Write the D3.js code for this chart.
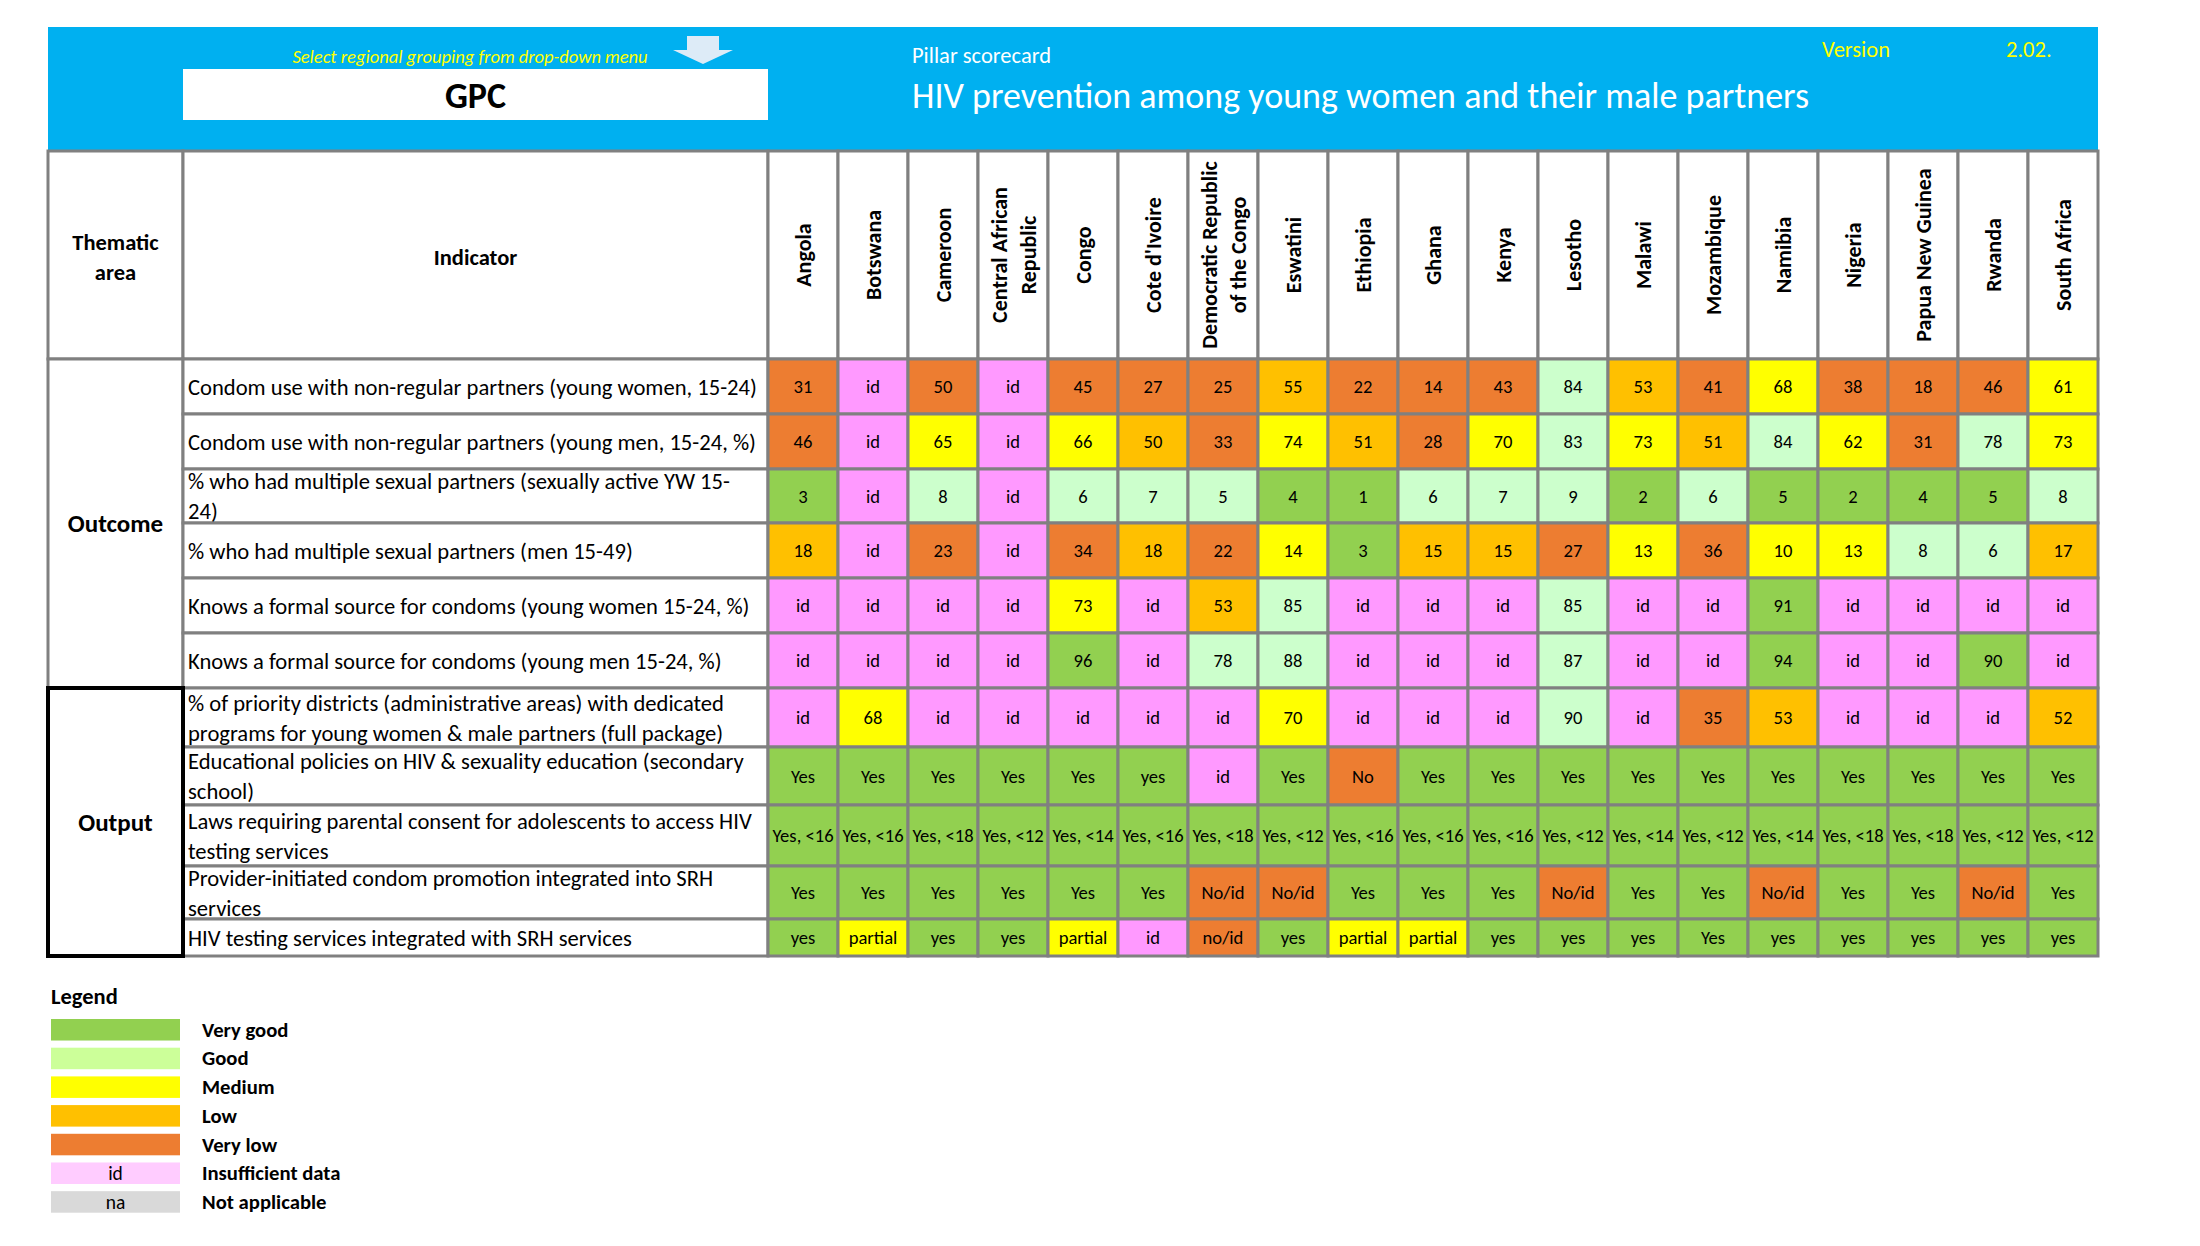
<!DOCTYPE html>
<html><head><meta charset="utf-8">
<script src="https://cdn.jsdelivr.net/npm/d3@7"></script>
<style>
html,body{margin:0;padding:0;background:#fff;}
svg{display:block;}
</style></head>
<body><svg id="chart" width="2200" height="1246"></svg>
<script>
// ---------------- DATA ----------------
const countries = ["Angola","Botswana","Cameroon","Central African Republic","Congo","Cote d'Ivoire",
  "Democratic Republic of the Congo","Eswatini","Ethiopia","Ghana","Kenya","Lesotho","Malawi",
  "Mozambique","Namibia","Nigeria","Papua New Guinea","Rwanda","South Africa"];
// header line breaks for the rotated country labels
const countryLines = {"Central African Republic":["Central African","Republic"],
  "Democratic Republic of the Congo":["Democratic Republic","of the Congo"]};

const thematicAreas = ["Outcome","Output"];
const rowThematic = [0,0,0,0,0,0,1,1,1,1,1];

const indicators = [
  ["Condom use with non-regular partners (young women, 15-24)"],
  ["Condom use with non-regular partners (young men, 15-24, %)"],
  ["% who had multiple sexual partners (sexually active YW 15-","24)"],
  ["% who had multiple sexual partners (men 15-49)"],
  ["Knows a formal source for condoms (young women 15-24, %)"],
  ["Knows a formal source for condoms (young men 15-24, %)"],
  ["% of priority districts (administrative areas) with dedicated","programs for young women & male partners (full package)"],
  ["Educational policies on HIV & sexuality education (secondary","school)"],
  ["Laws requiring parental consent for adolescents to access HIV","testing services"],
  ["Provider-initiated condom promotion integrated into SRH","services"],
  ["HIV testing services integrated with SRH services"]
];

const condomWomenValues  = ["31","id","50","id","45","27","25","55","22","14","43","84","53","41","68","38","18","46","61"];
const condomWomenRatings = ["VL","id","VL","id","VL","VL","VL","L","VL","VL","VL","G","L","VL","M","VL","VL","VL","M"];
const condomMenValues    = ["46","id","65","id","66","50","33","74","51","28","70","83","73","51","84","62","31","78","73"];
const condomMenRatings   = ["VL","id","M","id","M","L","VL","M","L","VL","M","G","M","L","G","M","VL","G","M"];
const multiYWValues      = ["3","id","8","id","6","7","5","4","1","6","7","9","2","6","5","2","4","5","8"];
const multiYWRatings     = ["VG","id","G","id","G","G","G","VG","VG","G","G","G","VG","G","VG","VG","VG","VG","G"];
const multiMenValues     = ["18","id","23","id","34","18","22","14","3","15","15","27","13","36","10","13","8","6","17"];
const multiMenRatings    = ["L","id","VL","id","VL","L","VL","M","VG","L","L","VL","M","VL","M","M","G","G","L"];
const sourceWomenValues  = ["id","id","id","id","73","id","53","85","id","id","id","85","id","id","91","id","id","id","id"];
const sourceWomenRatings = ["id","id","id","id","M","id","L","G","id","id","id","G","id","id","VG","id","id","id","id"];
const sourceMenValues    = ["id","id","id","id","96","id","78","88","id","id","id","87","id","id","94","id","id","90","id"];
const sourceMenRatings   = ["id","id","id","id","VG","id","G","G","id","id","id","G","id","id","VG","id","id","VG","id"];
const districtsValues    = ["id","68","id","id","id","id","id","70","id","id","id","90","id","35","53","id","id","id","52"];
const districtsRatings   = ["id","M","id","id","id","id","id","M","id","id","id","G","id","VL","L","id","id","id","L"];
const educationValues    = ["Yes","Yes","Yes","Yes","Yes","yes","id","Yes","No","Yes","Yes","Yes","Yes","Yes","Yes","Yes","Yes","Yes","Yes"];
const educationRatings   = ["VG","VG","VG","VG","VG","VG","id","VG","VL","VG","VG","VG","VG","VG","VG","VG","VG","VG","VG"];
const consentValues      = ["Yes, <16","Yes, <16","Yes, <18","Yes, <12","Yes, <14","Yes, <16","Yes, <18","Yes, <12","Yes, <16","Yes, <16",
                            "Yes, <16","Yes, <12","Yes, <14","Yes, <12","Yes, <14","Yes, <18","Yes, <18","Yes, <12","Yes, <12"];
const consentRatings     = ["VG","VG","VG","VG","VG","VG","VG","VG","VG","VG","VG","VG","VG","VG","VG","VG","VG","VG","VG"];
const condomPromoValues  = ["Yes","Yes","Yes","Yes","Yes","Yes","No/id","No/id","Yes","Yes","Yes","No/id","Yes","Yes","No/id","Yes","Yes","No/id","Yes"];
const condomPromoRatings = ["VG","VG","VG","VG","VG","VG","VL","VL","VG","VG","VG","VL","VG","VG","VL","VG","VG","VL","VG"];
const hivTestingValues   = ["yes","partial","yes","yes","partial","id","no/id","yes","partial","partial","yes","yes","yes","Yes","yes","yes","yes","yes","yes"];
const hivTestingRatings  = ["VG","M","VG","VG","M","id","VL","VG","M","M","VG","VG","VG","VG","VG","VG","VG","VG","VG"];

const rowValues  = [condomWomenValues, condomMenValues, multiYWValues, multiMenValues, sourceWomenValues, sourceMenValues,
                    districtsValues, educationValues, consentValues, condomPromoValues, hivTestingValues];
const rowRatings = [condomWomenRatings, condomMenRatings, multiYWRatings, multiMenRatings, sourceWomenRatings, sourceMenRatings,
                    districtsRatings, educationRatings, consentRatings, condomPromoRatings, hivTestingRatings];

const legendCodes  = ["VG","G","M","L","VL","id","na"];
const legendLabels = ["Very good","Good","Medium","Low","Very low","Insufficient data","Not applicable"];
const legendSwatchText = ["","","","","","id","na"];

const titleText = "HIV prevention among young women and their male partners";
const subtitleText = "Pillar scorecard";
const selectorHint = "Select regional grouping from drop-down menu";
const groupingText = "GPC";
const versionLabel = "Version";
const versionValue = "2.02.";

// ---------------- STYLE / LAYOUT ----------------
const FONT = "Carlito, Calibri, Lato, sans-serif";
const cellColor   = {VG:"#92D050", G:"#CCFFCC", M:"#FFFF00", L:"#FFC000", VL:"#ED7D31", id:"#FF99FF", na:"#D9D9D9"};
const legendColor = {VG:"#92D050", G:"#CCFF99", M:"#FFFF00", L:"#FFC000", VL:"#ED7D31", id:"#FFCCFF", na:"#D9D9D9"};
const GRID = "#808080";

const L = {left:48, right:2098, headTop:27, headBottom:150, tableTop:151, headerRowBottom:359,
           themRight:183, indRight:768};
const rowEdges = [359, 414, 469, 523, 578, 633, 688, 747, 805, 866, 919, 956];

const svg = d3.select("#chart");

const x = d3.scaleBand().domain(countries).range([L.indRight, L.right]).paddingInner(0).paddingOuter(0);
const yTop = d3.scaleOrdinal().domain(d3.range(indicators.length)).range(rowEdges.slice(0,-1));
const yBot = d3.scaleOrdinal().domain(d3.range(indicators.length)).range(rowEdges.slice(1));

// ---------- blue banner ----------
svg.append("rect").attr("x",L.left).attr("y",L.headTop).attr("width",L.right-L.left)
  .attr("height",L.headBottom-L.headTop).attr("fill","#00B0F0");
svg.append("rect").attr("x",L.themRight).attr("y",69).attr("width",L.indRight-L.themRight).attr("height",51).attr("fill","#fff");
svg.append("text").attr("x",(L.themRight+L.indRight)/2).attr("y",96).attr("text-anchor","middle")
  .attr("dominant-baseline","central").attr("font-family",FONT).attr("font-weight","bold").attr("font-size",36)
  .attr("fill","#000").text(groupingText);
svg.append("text").attr("x",470).attr("y",56).attr("text-anchor","middle").attr("dominant-baseline","central")
  .attr("font-family",FONT).attr("font-style","italic").attr("font-size",18.5).attr("fill","#FFFF00").text(selectorHint);
// down arrow
svg.append("path").attr("d","M687,36 L719,36 L719,50 L733,50 L703,64 L673,50 L687,50 Z").attr("fill","#DDEBF7");
svg.append("text").attr("x",912).attr("y",55).attr("dominant-baseline","central").attr("font-family",FONT)
  .attr("font-size",22.5).attr("fill","#fff").text(subtitleText);
svg.append("text").attr("x",912).attr("y",96).attr("dominant-baseline","central").attr("font-family",FONT)
  .attr("font-size",36).attr("fill","#fff").text(titleText);
svg.append("text").attr("x",1822).attr("y",49).attr("dominant-baseline","central").attr("font-family",FONT)
  .attr("font-size",22.5).attr("fill","#FFFF00").text(versionLabel);
svg.append("text").attr("x",2006).attr("y",49).attr("dominant-baseline","central").attr("font-family",FONT)
  .attr("font-size",22.5).attr("fill","#FFFF00").text(versionValue);

// ---------- header row ----------
const hdr = svg.append("g");
hdr.append("rect").attr("x",L.left).attr("y",L.tableTop).attr("width",L.themRight-L.left)
  .attr("height",L.headerRowBottom-L.tableTop).attr("fill","#fff").attr("stroke",GRID).attr("stroke-width",3);
hdr.append("rect").attr("x",L.themRight).attr("y",L.tableTop).attr("width",L.indRight-L.themRight)
  .attr("height",L.headerRowBottom-L.tableTop).attr("fill","#fff").attr("stroke",GRID).attr("stroke-width",3);
const hdrText = hdr.append("text").attr("font-family",FONT).attr("font-weight","bold").attr("font-size",22.5)
  .attr("text-anchor","middle").attr("dominant-baseline","central");
hdrText.append("tspan").attr("x",(L.left+L.themRight)/2).attr("y",242).text("Thematic");
hdrText.append("tspan").attr("x",(L.left+L.themRight)/2).attr("y",272).text("area");
hdr.append("text").attr("x",(L.themRight+L.indRight)/2).attr("y",257).attr("font-family",FONT).attr("font-weight","bold")
  .attr("font-size",22.5).attr("text-anchor","middle").attr("dominant-baseline","central").text("Indicator");

const hc = hdr.selectAll("g.country").data(countries).join("g").attr("class","country");
hc.append("rect").attr("x",d=>x(d)).attr("y",L.tableTop).attr("width",x.bandwidth())
  .attr("height",L.headerRowBottom-L.tableTop).attr("fill","#fff").attr("stroke",GRID).attr("stroke-width",3);
hc.each(function(d){
  const lines = countryLines[d] || [d];
  const cx = x(d)+x.bandwidth()/2, cy = (L.tableTop+L.headerRowBottom)/2;
  const t = d3.select(this).append("text").attr("transform",`translate(${cx},${cy}) rotate(-90)`)
    .attr("font-family",FONT).attr("font-weight","bold").attr("font-size",22).attr("text-anchor","middle")
    .attr("dominant-baseline","central").attr("fill","#000");
  lines.forEach((ln,i)=>{
    t.append("tspan").attr("x",0).attr("y",(i-(lines.length-1)/2)*29).text(ln);
  });
});

// ---------- body ----------
const body = svg.append("g");
// thematic cells
thematicAreas.forEach((area,k)=>{
  const rows = d3.range(indicators.length).filter(i=>rowThematic[i]===k);
  const y0 = yTop(rows[0]), y1 = yBot(rows[rows.length-1]);
  body.append("rect").attr("class","them"+k).attr("x",L.left).attr("y",y0).attr("width",L.themRight-L.left).attr("height",y1-y0)
    .attr("fill","#fff").attr("stroke",GRID).attr("stroke-width",3);
  body.append("text").attr("x",(L.left+L.themRight)/2).attr("y",(y0+y1)/2).attr("text-anchor","middle")
    .attr("dominant-baseline","central").attr("font-family",FONT).attr("font-weight","bold").attr("font-size",25)
    .text(area);
});
// indicator cells
const ind = body.selectAll("g.ind").data(indicators).join("g").attr("class","ind");
ind.append("rect").attr("x",L.themRight).attr("y",(d,i)=>yTop(i)).attr("width",L.indRight-L.themRight)
  .attr("height",(d,i)=>yBot(i)-yTop(i)).attr("fill","#fff").attr("stroke",GRID).attr("stroke-width",3);
ind.each(function(lines,i){
  const cy = (yTop(i)+yBot(i))/2;
  const t = d3.select(this).append("text").attr("font-family",FONT).attr("font-size",22.6)
    .attr("dominant-baseline","central").attr("fill","#000");
  lines.forEach((ln,k)=>{
    t.append("tspan").attr("x",L.themRight+5).attr("y",cy+(k-(lines.length-1)/2)*30).text(ln);
  });
});
// value cells
const cells = [];
rowValues.forEach((vals,i)=>vals.forEach((v,j)=>cells.push({row:i,country:countries[j],value:v,rating:rowRatings[i][j]})));
const cg = body.selectAll("g.cell").data(cells).join("g").attr("class","cell");
cg.append("rect").attr("x",d=>x(d.country)).attr("y",d=>yTop(d.row)).attr("width",x.bandwidth())
  .attr("height",d=>yBot(d.row)-yTop(d.row)).attr("fill",d=>cellColor[d.rating]).attr("stroke",GRID).attr("stroke-width",3);
cg.append("text").attr("x",d=>x(d.country)+x.bandwidth()/2).attr("y",d=>(yTop(d.row)+yBot(d.row))/2)
  .attr("text-anchor","middle").attr("dominant-baseline","central").attr("font-family",FONT).attr("font-size",18.6)
  .attr("fill","#000").text(d=>d.value);

// Output group black frame
{
  const rows = d3.range(indicators.length).filter(i=>rowThematic[i]===1);
  const y0 = yTop(rows[0]), y1 = yBot(rows[rows.length-1]);
  body.append("rect").attr("x",L.left).attr("y",y0).attr("width",L.themRight-L.left).attr("height",y1-y0)
    .attr("fill","none").attr("stroke","#000").attr("stroke-width",4);
}

// ---------- legend ----------
const lg = svg.append("g");
lg.append("text").attr("x",51).attr("y",1004).attr("font-family",FONT).attr("font-weight","bold").attr("font-size",22.5)
  .text("Legend");
const ly = d3.scaleBand().domain(legendCodes).range([1019, 1212.7]).paddingInner(0.25).paddingOuter(0);
const li = lg.selectAll("g.li").data(legendCodes).join("g").attr("class","li");
li.append("rect").attr("x",51).attr("y",d=>ly(d)).attr("width",129).attr("height",ly.bandwidth())
  .attr("fill",d=>legendColor[d]);
li.append("text").attr("x",115.5).attr("y",d=>ly(d)+ly.bandwidth()/2).attr("text-anchor","middle")
  .attr("dominant-baseline","central").attr("font-family",FONT).attr("font-size",19.5).attr("fill","#000")
  .text((d,i)=>legendSwatchText[i]);
li.append("text").attr("x",202).attr("y",d=>ly(d)+ly.bandwidth()/2).attr("dominant-baseline","central")
  .attr("font-family",FONT).attr("font-weight","bold").attr("font-size",20.7).attr("fill","#000")
  .text((d,i)=>legendLabels[i]);
</script>
</body></html>
